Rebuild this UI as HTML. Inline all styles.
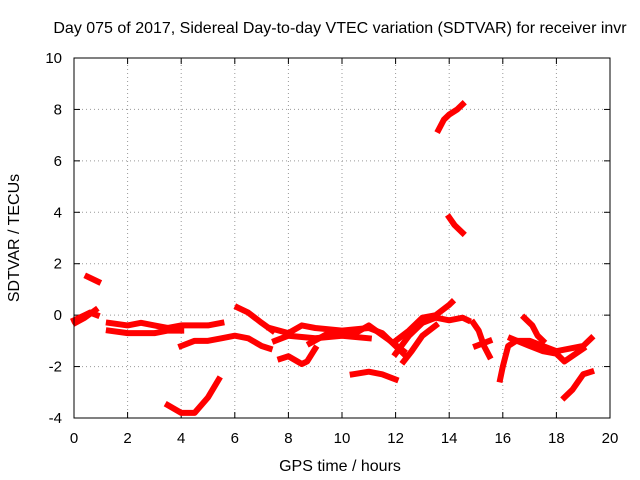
<!DOCTYPE html>
<html><head><meta charset="utf-8"><style>
body{margin:0;background:#fff}
svg{display:block;font-family:"Liberation Sans",sans-serif}
</style></head><body>
<svg id="chart" width="640" height="480" viewBox="0 0 640 480">
<text x="340" y="33" font-size="16" text-anchor="middle">Day 075 of 2017, Sidereal Day-to-day VTEC variation (SDTVAR) for receiver invr</text>
<text x="340" y="471" font-size="16" text-anchor="middle">GPS time / hours</text>
<text transform="translate(19,238) rotate(-90)" font-size="16" text-anchor="middle">SDTVAR / TECUs</text>
<g id="grid"></g>
<g id="ticks"></g>
<g id="series"></g>
<rect x="74" y="58" width="536" height="360" fill="none" stroke="#000" stroke-width="1"/>
</svg>
<script>
const xTicks=[0,2,4,6,8,10,12,14,16,18,20];
const yTicks=[-4,-2,0,2,4,6,8,10];
const tracks=[
[[0,-0.2],[0.2,-0.1],[0.4,0],[0.6,0.1],[0.85,0]],
[[0.05,-0.3],[0.4,-0.1],[0.8,0.2]],
[[0.5,1.5],[0.9,1.3]],
[[1.3,-0.3],[2,-0.4],[2.5,-0.3],[3,-0.4],[3.5,-0.5],[4,-0.4],[4.5,-0.4],[5,-0.4],[5.5,-0.3]],
[[1.3,-0.6],[2,-0.7],[3,-0.7],[3.5,-0.6],[4,-0.6]],
[[4,-1.2],[4.5,-1.0],[5,-1.0],[5.5,-0.9],[6,-0.8],[6.5,-0.9],[7,-1.2],[7.3,-1.3]],
[[3.5,-3.5],[4,-3.8],[4.5,-3.8],[5,-3.2],[5.4,-2.5]],
[[6.1,0.3],[6.5,0.1],[7,-0.3],[7.4,-0.6]],
[[7.3,-0.5],[8,-0.7],[8.5,-0.4],[9,-0.5],[10,-0.6],[11,-0.5],[11.5,-0.7],[12,-1.2],[12.3,-1.5]],
[[7.7,-1.7],[8,-1.6],[8.5,-1.9],[8.7,-1.8],[9,-1.3]],
[[7.5,-1],[8,-0.8],[9,-0.9],[10,-0.8],[11,-0.9]],
[[8.8,-1.1],[9.5,-0.7],[10.5,-0.7],[11,-0.4],[11.8,-1],[12.3,-1.4]],
[[10.4,-2.3],[11,-2.2],[11.5,-2.3],[12,-2.5]],
[[12,-1.5],[12.5,-0.8],[13,-0.3],[13.5,-0.1],[14,-0.2],[14.5,-0.1],[14.7,-0.2]],
[[12,-1],[12.5,-0.6],[13,-0.1],[13.5,0],[14,0.4],[14.1,0.5]],
[[12.3,-1.8],[12.6,-1.4],[13,-0.8],[13.5,-0.4]],
[[13.6,7.2],[13.8,7.6],[14,7.8],[14.3,8],[14.5,8.2]],
[[14,3.8],[14.2,3.5],[14.5,3.2]],
[[14.9,-0.3],[15.1,-0.6],[15.3,-1.2],[15.5,-1.6]],
[[15,-1.2],[15.5,-1.0]],
[[15.9,-2.5],[16,-2],[16.2,-1.2],[16.5,-1],[17,-1],[17.5,-1.2],[18,-1.4],[18.5,-1.3],[19,-1.2],[19.3,-0.9]],
[[16.8,-0.1],[17.1,-0.4],[17.3,-0.8],[17.5,-1.0]],
[[16.3,-0.9],[17,-1.2],[17.5,-1.4],[18,-1.5],[18.3,-1.8],[19,-1.3]],
[[18.3,-3.2],[18.6,-2.9],[19,-2.3],[19.3,-2.2]]
];
const X0=74,X1=610,Y0=418,Y1=58;
const sx=v=>X0+(v-0)/(20-0)*(X1-X0);
const sy=v=>Y0-(v+4)/(10+4)*(Y0-Y1);
const NS="http://www.w3.org/2000/svg";
const grid=document.getElementById('grid'),ticks=document.getElementById('ticks'),series=document.getElementById('series');
function mk(tag,attrs,parent){const e=document.createElementNS(NS,tag);for(const k in attrs)e.setAttribute(k,attrs[k]);parent.appendChild(e);return e;}
xTicks.forEach(t=>{
  const x=sx(t);
  if(t>0&&t<20){const g=mk('line',{x1:x,x2:x,y1:Y0,y2:Y1,stroke:'#999','stroke-dasharray':'1,3'},grid);
  
  }
  mk('line',{x1:x,x2:x,y1:Y0,y2:Y0-6,stroke:'#000'},ticks);
  mk('line',{x1:x,x2:x,y1:Y1,y2:Y1+6,stroke:'#000'},ticks);
  const l=mk('text',{x:x,y:443,'font-size':15,'text-anchor':'middle'},ticks);l.textContent=t;
  
  
});
yTicks.forEach(t=>{
  const y=sy(t);
  if(t>-4&&t<10){const g=mk('line',{x1:X0,x2:X1,y1:y,y2:y,stroke:'#999','stroke-dasharray':'1,3'},grid);
  
  }
  mk('line',{x1:X0,x2:X0+6,y1:y,y2:y,stroke:'#000'},ticks);
  mk('line',{x1:X1,x2:X1-6,y1:y,y2:y,stroke:'#000'},ticks);
  const l=mk('text',{x:62,y:y+5,'font-size':15,'text-anchor':'end'},ticks);l.textContent=t;
  
  
});
tracks.forEach(tr=>{
  const p=mk('polyline',{points:tr.map(d=>sx(d[0])+','+sy(d[1])).join(' '),fill:'none',stroke:'#f00','stroke-width':6,'stroke-linejoin':'round','stroke-linecap':'square'},series);
  
  
});
</script>
</body></html>
